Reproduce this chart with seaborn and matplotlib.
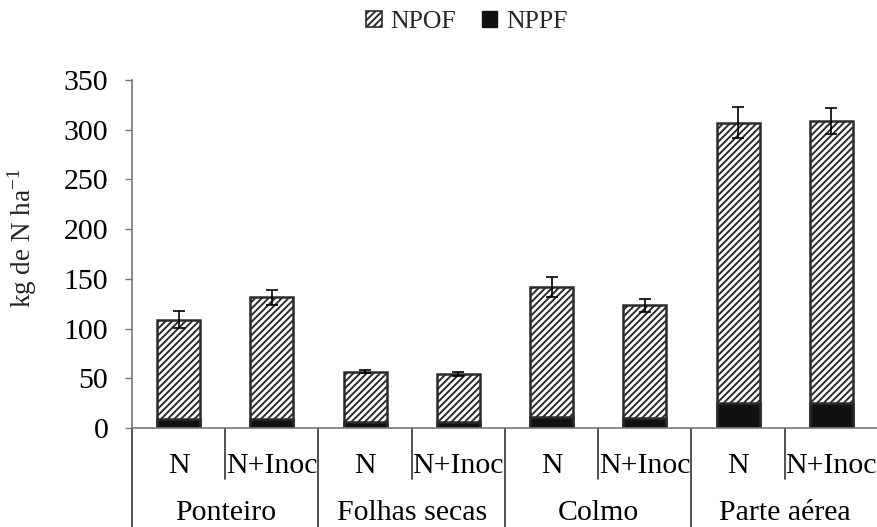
import numpy as np
import pandas as pd
import matplotlib
matplotlib.use("Agg")
import matplotlib.pyplot as plt
import matplotlib.transforms as mtransforms
from matplotlib.patches import Patch
import seaborn as sns

# Data (kg de N ha-1)
groups = ["Ponteiro", "Folhas secas", "Colmo", "Parte aérea"]
treatments = ["N", "N+Inoc"]
nppf = [9.0, 9.0, 6.3, 6.0, 11.5, 10.0, 25.5, 25.0]
npof = [100.0, 122.5, 50.3, 48.3, 130.0, 113.4, 281.5, 283.5]
err = [8.7, 7.5, 1.5, 2.0, 10.0, 6.7, 15.4, 13.0]

sns.set_theme(style="white")
plt.rcParams["font.family"] = ["Liberation Serif", "DejaVu Serif"]
plt.rcParams["mathtext.fontset"] = "custom"
plt.rcParams["mathtext.rm"] = "Liberation Serif"
plt.rcParams["hatch.linewidth"] = 1.4

labels = [f"{g}|{t}" for g in groups for t in treatments]
total = [a + b for a, b in zip(nppf, npof)]
df = pd.DataFrame({"bar": labels, "total": total, "nppf": nppf, "err": err})

fig = plt.figure(figsize=(8.78, 5.27), dpi=100)
ax = fig.add_axes([132 / 878, 1 - 428 / 527, 1 - 132 / 878, 348 / 527])

edge = "#2b2b2b"
sns.barplot(data=df, x="bar", y="total", order=labels, ax=ax, color="white",
            edgecolor=edge, linewidth=1.8, hatch="/////", width=0.46,
            errorbar=None, saturation=1)
sns.barplot(data=df, x="bar", y="nppf", order=labels, ax=ax, color="#111111",
            edgecolor=edge, linewidth=1.8, width=0.46, errorbar=None,
            saturation=1)
ax.errorbar(np.arange(len(labels)), df["total"], yerr=df["err"], fmt="none",
            ecolor="black", elinewidth=1.2, capsize=4.5, capthick=1.2, zorder=5)

ax.set_xlim(-0.5, len(labels) - 0.5)
ax.set_ylim(0, 350)
ax.set_yticks(np.arange(0, 351, 50))
ax.tick_params(axis="y", labelsize=21.5, length=5, width=1, color="#777777",
               direction="out", left=True, pad=12, labelcolor="black")
ax.set_xticks([])
ax.set_xlabel("")
ax.set_ylabel(r"kg de N ha$^{\mathrm{-1}}$", fontsize=19.5)
ax.yaxis.set_label_coords(-0.124, 0.546)

for side in ["top", "right"]:
    ax.spines[side].set_visible(False)
for side in ["left", "bottom"]:
    ax.spines[side].set_color("#777777")
    ax.spines[side].set_linewidth(1.2)

# Two-level category axis
trans = mtransforms.blended_transform_factory(ax.transData, ax.transAxes)
for i, lab in enumerate(labels):
    ax.text(i, -0.11, lab.split("|")[1], transform=trans, ha="center",
            va="center", fontsize=21.5, color="black")
for k, g in enumerate(groups):
    ax.text(2 * k + 0.5, -0.243, g, transform=trans, ha="center",
            va="center", fontsize=21.5, color="black")
for k in range(len(groups)):
    ax.plot([2 * k + 0.5, 2 * k + 0.5], [0, -0.147], transform=trans,
            color="#333333", lw=1.2, clip_on=False)
for k in range(len(groups) + 1):
    ax.plot([2 * k - 0.5, 2 * k - 0.5], [0, -0.29], transform=trans,
            color="#333333", lw=1.2, clip_on=False)

handles = [Patch(facecolor="white", edgecolor=edge, hatch="/////", lw=1.2, label="NPOF"),
           Patch(facecolor="#111111", edgecolor="#111111", label="NPPF")]
fig.legend(handles=handles, loc="center", bbox_to_anchor=(0.532, 0.958), ncol=2,
           frameon=False, fontsize=18.5, handlelength=0.6, handleheight=0.6,
           handletextpad=0.35, columnspacing=1.0)

fig.savefig("out.png", dpi=100)
